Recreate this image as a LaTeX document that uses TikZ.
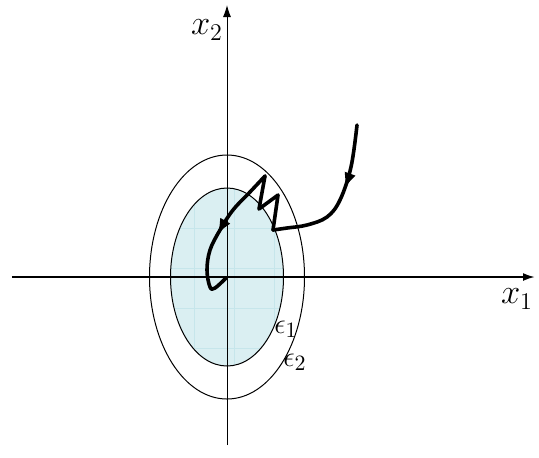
\documentclass[tikz,border=0pt]{standalone}
\usetikzlibrary{decorations.markings, arrows.meta}
\definecolor{setfill}{RGB}{218,239,242}
\definecolor{setgrid}{RGB}{198,230,235}
\tikzset{
  axis/.style={line width=1pt, -{Latex[length=6pt, width=4pt]}},
  level/.style={line width=0.5pt},
  traj/.style={line width=1.8pt, line join=round, line cap=round},
  lbl/.style={inner sep=0pt, font=\fontsize{18}{22}\selectfont},
  eps/.style={inner sep=0pt, font=\fontsize{15}{18}\selectfont},
}
\begin{document}
\begin{tikzpicture}[x=0.5pt, y=0.5pt]
\useasboundingbox (-227,-180) rectangle (312,277);

% Inner set (shaded) with its faint grid
\fill[setfill] (0,0) ellipse [x radius=56.5, y radius=89];
\begin{scope}
\clip (0,0) ellipse [x radius=56.5, y radius=89];
\foreach \gx in {-73,-33,7,47} \draw[setgrid, line width=0.4pt] (\gx,-90) -- (\gx,90);
\foreach \gy in {89,49,9,-31,-71} \draw[setgrid, line width=0.4pt] (-60,\gy) -- (60,\gy);
\end{scope}
\draw[level] (0,0) ellipse [x radius=56.5, y radius=89];

% Outer level set
\draw[level] (0,0) ellipse [x radius=77.5, y radius=122];

% Axes
\draw[axis] (-215,0) -- (308,0);
\draw[axis, line width=0.5pt] (0,-168) -- (0,272);
\node[lbl] (xone) at (290,-22) {$x_1$};
\node[lbl] (xtwo) at (-20,247) {$x_2$};
\node[eps] (epsone) at (59,-52) {$\epsilon_1$};
\node[eps] (epstwo) at (68,-85) {$\epsilon_2$};

% Trajectory
\draw[traj, postaction={decorate}, decoration={markings, mark=at position 0.42 with {\arrow{Latex[length=8pt, width=6pt]}}}]
  plot[smooth, tension=0.6] coordinates {(130,152) (124,110) (113,77) (100,60) (80,52) (60,49) (46,47)};
\draw[traj] (46,47) -- (51,82) -- (32,68) -- (38,101);
\draw[traj, postaction={decorate}, decoration={markings, mark=at position 0.5 with {\arrow{Latex[length=8pt, width=6pt]}}}]
  plot[smooth, tension=0.6] coordinates {(38,101) (23,85) (6,67) (-7,47) (-17,27) (-20,7) (-17,-10) (-12,-11) (-1,-1)};

\end{tikzpicture}
\end{document}
